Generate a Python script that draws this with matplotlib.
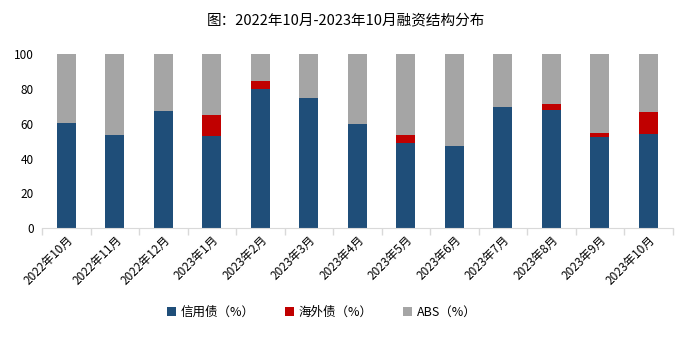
import matplotlib.pyplot as plt
import numpy as np

plt.rcParams['font.family'] = ['Noto Sans CJK SC', 'DejaVu Sans']

# Data
months = ["2022年10月", "2022年11月", "2022年12月", "2023年1月", "2023年2月", "2023年3月",
          "2023年4月", "2023年5月", "2023年6月", "2023年7月", "2023年8月", "2023年9月", "2023年10月"]
credit = [60.3, 53.4, 67.2, 52.9, 79.7, 74.7, 59.8, 49.0, 47.1, 69.5, 67.8, 52.3, 54.0]
overseas = [0, 0, 0, 12.0, 4.8, 0, 0, 4.4, 0, 0, 3.5, 2.5, 12.7]
abs_share = [100 - c - o for c, o in zip(credit, overseas)]

# Colors
c_blue = "#1F4E79"
c_red = "#C00000"
c_gray = "#A5A5A5"

fig = plt.figure(figsize=(6.92, 3.38), dpi=100)
ax = fig.add_axes([0.061, 0.325, 0.911, 0.515])

x = np.arange(len(months))
w = 0.39
ax.bar(x, credit, w, color=c_blue, label="信用债（%）")
ax.bar(x, overseas, w, bottom=credit, color=c_red, label="海外债（%）")
ax.bar(x, abs_share, w, bottom=np.array(credit) + np.array(overseas),
       color=c_gray, label="ABS（%）")

ax.set_xlim(-0.5, len(months) - 0.5)
ax.set_ylim(0, 100)
ax.set_yticks(range(0, 101, 20))
ax.tick_params(axis='y', length=0, labelsize=8.5, pad=6)

# x-axis: category labels plus separator ticks between them
ax.set_xticks(x)
ax.set_xticklabels(months, rotation=45, ha='right', rotation_mode='anchor', fontsize=8.5)
ax.tick_params(axis='x', length=0, pad=4)
ax.set_xticks(np.arange(-0.5, len(months)), minor=True)
ax.tick_params(axis='x', which='minor', length=5, color="#D9D9D9", width=1)

for s in ["top", "right", "left"]:
    ax.spines[s].set_visible(False)
ax.spines["bottom"].set_color("#D9D9D9")

# Title
fig.text(0.5, 0.94, "图：2022年10月-2023年10月融资结构分布", ha='center', va='center', fontsize=10.5)

# Legend
fig.legend(loc='center', bbox_to_anchor=(0.465, 0.075), ncol=3, frameon=False,
           fontsize=9, handlelength=0.7, handleheight=0.7, columnspacing=2.4, handletextpad=0.4)

plt.savefig("out.png", dpi=100)
